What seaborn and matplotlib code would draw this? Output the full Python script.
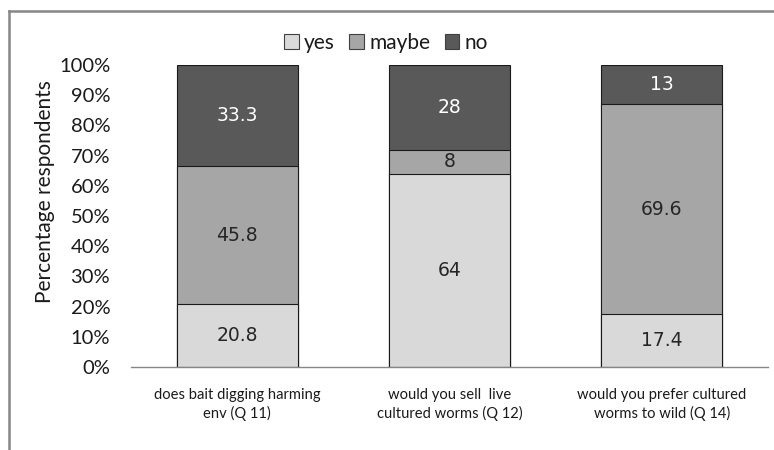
import matplotlib
matplotlib.use("Agg")
import matplotlib.pyplot as plt
from matplotlib.lines import Line2D
from matplotlib.patches import Patch
import pandas as pd
import seaborn as sns

# Survey answers, percent of respondents per question
questions = [
    "does bait digging harming\nenv (Q 11)",
    "would you sell  live\ncultured worms (Q 12)",
    "would you prefer cultured\nworms to wild (Q 14)",
]
yes = [20.8, 64, 17.4]
maybe = [45.8, 8, 69.6]
no = [33.3, 28, 13]
answers = ["yes", "maybe", "no"]
y_ticks = [0, 10, 20, 30, 40, 50, 60, 70, 80, 90, 100]

fill = {"yes": "#d9d9d9", "maybe": "#a6a6a6", "no": "#595959"}
ink = {"yes": "#262626", "maybe": "#262626", "no": "white"}

df = pd.DataFrame({"question": questions, "yes": yes, "maybe": maybe, "no": no})
df["top_yes"] = df["yes"]
df["top_maybe"] = df["yes"] + df["maybe"]
df["top_no"] = df["yes"] + df["maybe"] + df["no"]

sns.set_style("white")
plt.rcParams["font.family"] = ["Lato", "DejaVu Sans"]

fig = plt.figure(figsize=(7.74, 4.5), dpi=100)
ax = fig.add_axes([131 / 774, 1 - 367 / 450, (768 - 131) / 774, 302 / 450])

# stacked columns: draw cumulative totals from the top segment down
for ans in reversed(answers):
    sns.barplot(data=df, x="question", y="top_" + ans, order=questions,
                color=fill[ans], saturation=1, edgecolor="#1a1a1a",
                linewidth=0.8, width=0.57, errorbar=None, ax=ax)

# segment value labels
for i, q in enumerate(questions):
    base = 0.0
    for ans in answers:
        v = df.loc[i, ans]
        ax.text(i, base + v / 2, f"{v:g}", ha="center", va="center",
                fontsize=13.5, color=ink[ans], family="DejaVu Sans")
        base += v

ax.set_ylim(0, 100)
ax.set_xlim(-0.5, 2.5)
ax.set_yticks(y_ticks)
ax.set_yticklabels([f"{t}%" for t in y_ticks])
ax.set_xlabel("")
ax.set_ylabel("Percentage respondents", fontsize=15, color="#1a1a1a")
ax.yaxis.set_label_coords(-0.119, 0.58)
ax.tick_params(axis="y", labelsize=14.5, labelcolor="#1a1a1a", length=0, pad=15)
ax.tick_params(axis="x", labelsize=10.6, labelcolor="#1a1a1a", length=0, pad=15)
for lbl in ax.get_xticklabels():
    lbl.set_linespacing(1.3)

for s in ("left", "right", "top"):
    ax.spines[s].set_visible(False)
ax.spines["bottom"].set_color("#868686")
ax.spines["bottom"].set_linewidth(1.0)

handles = [Patch(facecolor=fill[a], edgecolor="#404040", linewidth=0.8, label=a)
           for a in answers]
fig.legend(handles=handles, loc="center", bbox_to_anchor=(386 / 774, 1 - 43 / 450),
           ncol=3, frameon=False, fontsize=15, handlelength=0.7, handleheight=0.7,
           handletextpad=0.25, columnspacing=0.7, labelcolor="#1a1a1a")

# outer frame (left and top edges)
fig.add_artist(Line2D([8.7 / 774, 8.7 / 774], [0, 1 - 11.2 / 450],
                      transform=fig.transFigure, color="#878787", linewidth=1.8,
                      solid_capstyle="projecting"))
fig.add_artist(Line2D([8.7 / 774, 1.0], [1 - 11.2 / 450, 1 - 11.2 / 450],
                      transform=fig.transFigure, color="#878787", linewidth=1.8,
                      solid_capstyle="projecting"))

fig.savefig("out.png", dpi=100)
